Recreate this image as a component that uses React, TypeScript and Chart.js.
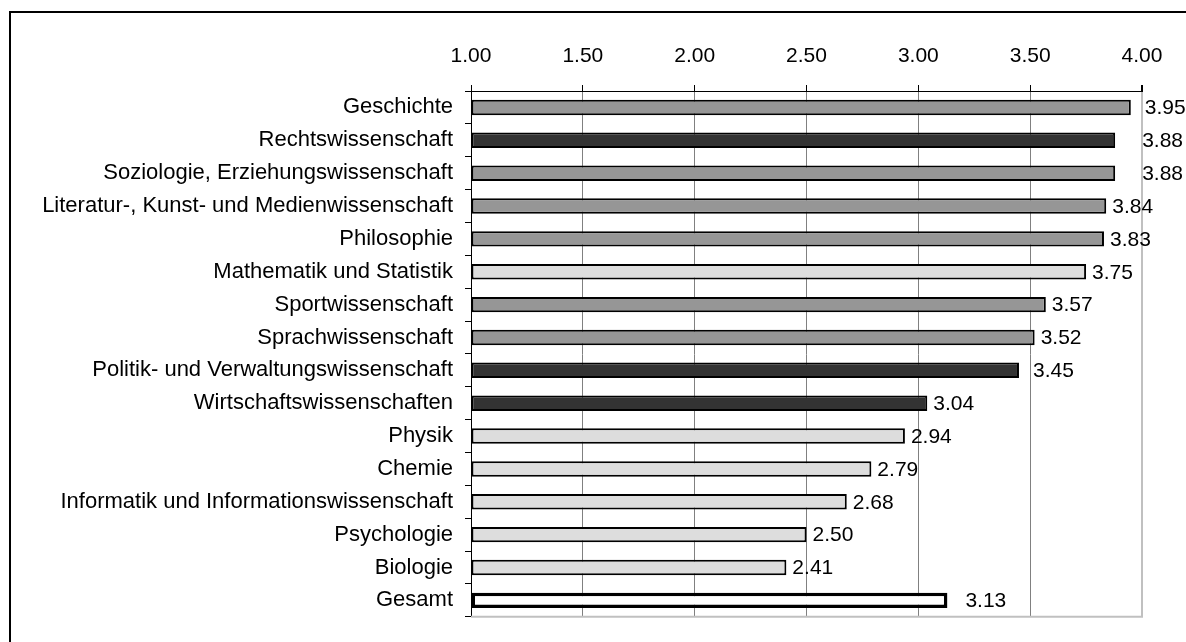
import React, { useEffect, useRef } from "react";
import { Chart, registerables } from "chart.js";

Chart.register(...registerables);

const categories = [
  "Geschichte",
  "Rechtswissenschaft",
  "Soziologie, Erziehungswissenschaft",
  "Literatur-, Kunst- und Medienwissenschaft",
  "Philosophie",
  "Mathematik und Statistik",
  "Sportwissenschaft",
  "Sprachwissenschaft",
  "Politik- und Verwaltungswissenschaft",
  "Wirtschaftswissenschaften",
  "Physik",
  "Chemie",
  "Informatik und Informationswissenschaft",
  "Psychologie",
  "Biologie",
  "Gesamt",
];

const values = [3.95, 3.88, 3.88, 3.84, 3.83, 3.75, 3.57, 3.52, 3.45, 3.04, 2.94, 2.79, 2.68, 2.5, 2.41, 3.13];

// group of each bar: m = medium grey, d = dark, l = light, t = total
const groups = ["m", "d", "m", "m", "m", "l", "m", "m", "d", "d", "l", "l", "l", "l", "l", "t"];

const xTickValues = [1.0, 1.5, 2.0, 2.5, 3.0, 3.5, 4.0];

const FONT = '"Liberation Sans", Arial, sans-serif';
const GROUP_FILL: Record<string, string> = { m: "#969696", d: "#333333", l: "#dddddd", t: "#ffffff" };
const LABEL_EXTRA = [8, 21, 21, 0, 0, 0, 0, 0, 8, 0, 0, 0, 0, 0, 0, 12];

const framePlugin = {
  id: "frame",
  beforeDraw(chart: any) {
    const ctx = chart.ctx;
    ctx.save();
    ctx.fillStyle = "#ffffff";
    ctx.fillRect(0, 0, chart.width, chart.height);
    ctx.strokeStyle = "#000000";
    ctx.lineWidth = 2;
    ctx.beginPath();
    ctx.moveTo(10, chart.height);
    ctx.lineTo(10, 12);
    ctx.lineTo(chart.width, 12);
    ctx.stroke();
    ctx.restore();
  },
  afterDatasetsDraw(chart: any) {
    const ctx = chart.ctx;
    const area = chart.chartArea;
    ctx.save();
    ctx.strokeStyle = "#c0c0c0";
    ctx.lineWidth = 2;
    ctx.beginPath();
    ctx.moveTo(area.left, area.bottom);
    ctx.lineTo(area.right + 1, area.bottom);
    ctx.stroke();
    const meta = chart.getDatasetMeta(0);
    ctx.fillStyle = "#000000";
    ctx.font = `21px ${FONT}`;
    ctx.textAlign = "left";
    ctx.textBaseline = "middle";
    meta.data.forEach((el: any, i: number) => {
      const v = chart.data.datasets[0].data[i] as number;
      ctx.fillText(v.toFixed(2), el.x + 6 + LABEL_EXTRA[i], el.y + 1);
    });
    ctx.restore();
  },
};

export default function App() {
  const ref = useRef<HTMLCanvasElement>(null);
  useEffect(() => {
    if (!ref.current) return;
    const chart = new Chart(ref.current, {
      type: "bar",
      data: {
        labels: categories,
        datasets: [
          {
            data: values,
            base: 1,
            backgroundColor: groups.map((g) => GROUP_FILL[g]),
            borderColor: "#000000",
            borderWidth: groups.map((g) => (g === "t" ? 3.5 : 2)),
            borderSkipped: false,
            barPercentage: 0.47,
            categoryPercentage: 1,
          } as any,
        ],
      },
      options: {
        indexAxis: "y",
        animation: false,
        responsive: false,
        devicePixelRatio: 1,
        layout: { padding: { left: 0, right: 44, top: 0, bottom: 23 } },
        plugins: { legend: { display: false }, tooltip: { enabled: false } },
        scales: {
          x: {
            type: "linear",
            position: "top",
            min: 1,
            max: 4,
            afterBuildTicks: (scale: any) => {
              scale.ticks = xTickValues.map((v) => ({ value: v }));
            },
            afterFit: (scale: any) => {
              scale.height = 91;
            },
            ticks: {
              color: "#000000",
              font: { family: FONT, size: 21 },
              padding: 16,
              maxRotation: 0,
              callback: (v: any) => Number(v).toFixed(2),
            },
            grid: {
              color: (c: any) => (c.tick && c.tick.value === 4 ? "#c0c0c0" : c.tick && c.tick.value === 1 ? "#000000" : "#808080"),
              lineWidth: (c: any) => (c.tick && c.tick.value === 4 ? 2 : 1),
              tickColor: "#000000",
              tickLength: 6,
              drawTicks: true,
            },
            border: { display: true, color: "#000000", width: 1 },
          },
          y: {
            type: "category",
            afterFit: (scale: any) => {
              scale.width = 471;
            },
            ticks: {
              color: "#000000",
              font: { family: FONT, size: 22 },
              padding: 12,
              autoSkip: false,
            },
            grid: {
              offset: true,
              drawOnChartArea: false,
              color: "#000000",
              tickLength: 6,
            },
            border: { display: true, color: "#000000", width: 1 },
          },
        },
      },
      plugins: [framePlugin],
    } as any);
    return () => chart.destroy();
  }, []);
  return (
    <div style={{ position: "absolute", left: 0, top: 0, width: 1186, height: 642 }}>
      <canvas ref={ref} width={1186} height={642} style={{ display: "block" }} />
    </div>
  );
}
